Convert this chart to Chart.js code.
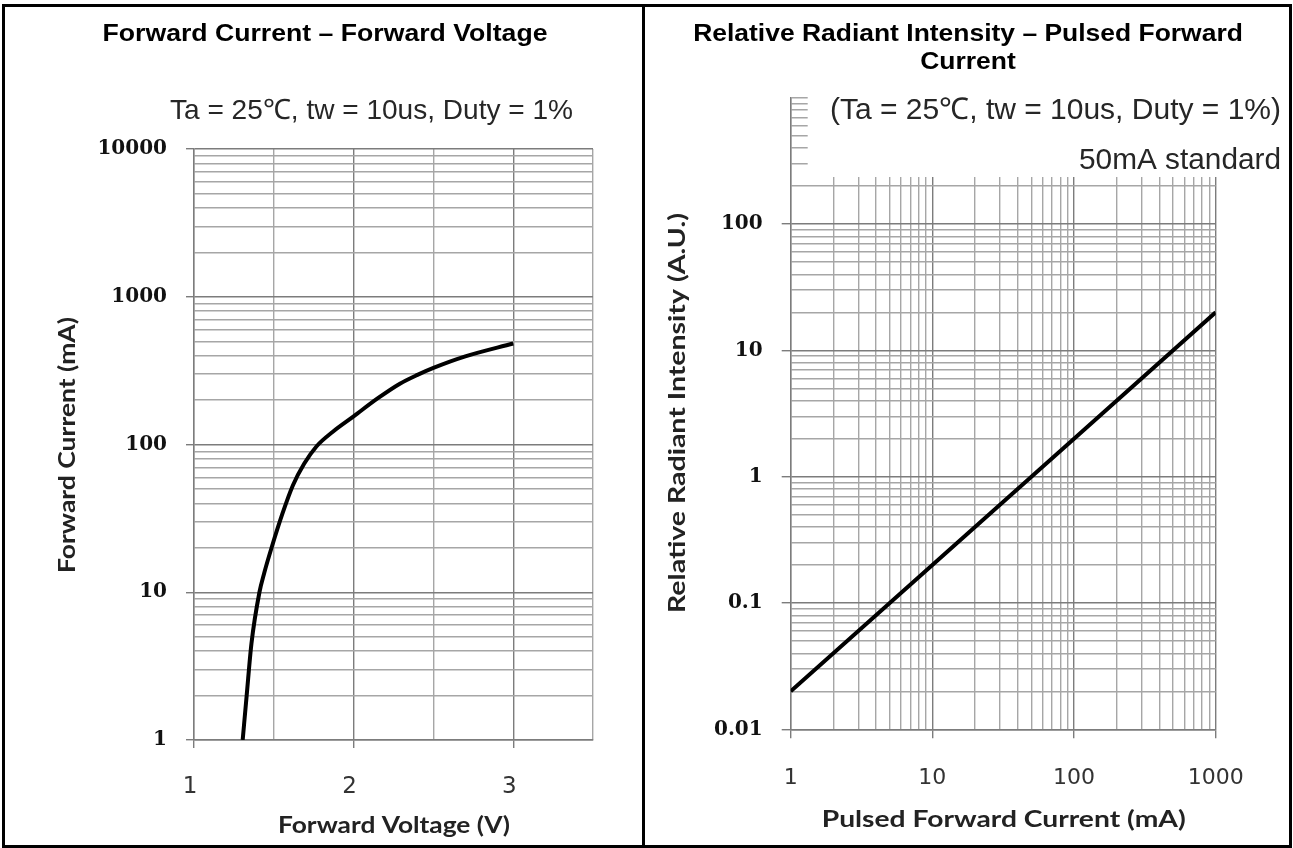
<!DOCTYPE html>
<html>
<head>
<meta charset="utf-8">
<script src="https://cdn.jsdelivr.net/npm/chart.js@4.4.1/dist/chart.umd.min.js"></script>
<style>
  html, body { margin: 0; padding: 0; background: #fff; }
  #page { position: relative; width: 1293px; height: 848px; overflow: hidden; }
  canvas { position: absolute; top: 0; }
  #leftChart { left: 0; }
  #rightChart { left: 645px; }
  .frame { position: absolute; left: 2px; top: 4px; width: 1290px; height: 844px; box-sizing: border-box; border: 3px solid #000; }
  .divider { position: absolute; left: 642px; top: 4px; width: 3px; height: 844px; background: #000; }
</style>
</head>
<body>
<div id="page">
  <canvas id="leftChart" width="645" height="848"></canvas>
  <canvas id="rightChart" width="648" height="848"></canvas>
  <div class="frame"></div>
  <div class="divider"></div>
</div>
<script>
// Forward current vs forward voltage
const fvVoltage = [1.305, 1.33, 1.36, 1.41, 1.44, 1.486, 1.554, 1.62, 1.69, 1.767, 1.87, 2.0, 2.15, 2.29, 2.4, 2.5, 2.7, 3.0];
const fvCurrent = [1, 2, 4.5, 10, 13.5, 20, 34, 53, 74, 97, 122, 155, 205, 258, 296, 330, 395, 483];
const fvVoltTicks = [1, 1.5, 2, 2.5, 3, 3.5];
const fvVoltLabels = [1, 2, 3];
const fvCurrentDecades = [1, 10, 100, 1000, 10000];

// Relative radiant intensity vs pulsed forward current (50mA = 1)
const riCurrent = [1, 10, 50, 100, 1000];
const riIntensity = [0.02, 0.2, 1, 2, 20];
const riCurrentDecades = [1, 10, 100, 1000];
const riIntensityDecades = [0.01, 0.1, 1, 10, 100, 1000];
const riIntensityLabels = [0.01, 0.1, 1, 10, 100];

const MAJOR = '#7c7c7c';
const MINOR = '#a6a6a6';

// 1..9 per decade, majors flagged for labels
function logTicks(decades, labelled) {
  const out = [];
  decades.forEach((d, i) => {
    out.push({ value: d, major: labelled.includes(d) });
    if (i < decades.length - 1) {
      for (let k = 2; k <= 9; k++) out.push({ value: +(d * k).toPrecision(6), major: false });
    }
  });
  return out;
}

const gridStyle = (tickLen) => ({
  color: c => (c.tick && c.tick.major ? MAJOR : MINOR),
  lineWidth: 1.4,
  tickLength: tickLen,
  tickColor: c => (c.tick && c.tick.major ? MAJOR : 'transparent')
});
const labelMajors = (v, i, t) => (t[i] && t[i].major ? String(v) : '');

// free text drawn on top (titles, axis names, test conditions)
function textPlugin(items) {
  return {
    id: 'panelText',
    afterDraw(chart) {
      const ctx = chart.ctx;
      items.forEach(t => {
        ctx.save();
        ctx.font = t.font;
        ctx.fillStyle = t.color || '#000';
        ctx.textAlign = 'left';
        ctx.textBaseline = 'alphabetic';
        const raw = ctx.measureText(t.text).width;
        const sx = t.width ? t.width / raw : (t.stretch || 1);
        const w = raw * sx;
        ctx.translate(t.x, t.y);
        if (t.rotate) ctx.rotate(t.rotate * Math.PI / 180);
        ctx.translate(t.align === 'right' ? -w : t.align === 'center' ? -w / 2 : 0, 0);
        ctx.scale(sx, 1);
        ctx.fillText(t.text, 0, 0);
        ctx.restore();
      });
    }
  };
}

// the upper part of the right grid is hidden behind the condition text
const coverTop = {
  id: 'coverTop',
  beforeDatasetsDraw(chart) {
    const { ctx, chartArea, scales } = chart;
    const yb = scales.y.getPixelForValue(200) - 9;
    ctx.save();
    ctx.fillStyle = '#fff';
    ctx.fillRect(chartArea.left + 17, 0, chart.width, yb);
    ctx.restore();
  }
};

new Chart(document.getElementById('leftChart'), {
  type: 'line',
  data: {
    datasets: [{
      data: fvVoltage.map((v, i) => ({ x: v, y: fvCurrent[i] })),
      borderColor: '#000',
      borderWidth: 4,
      pointRadius: 0,
      cubicInterpolationMode: 'monotone',
      fill: false
    }]
  },
  options: {
    responsive: false,
    animation: false,
    layout: { padding: { top: 149, right: 52, left: 0, bottom: 0 } },
    plugins: { legend: { display: false }, tooltip: { enabled: false } },
    scales: {
      x: {
        type: 'linear', min: 1, max: 3.5,
        afterBuildTicks: s => { s.ticks = fvVoltTicks.map(v => ({ value: v, major: fvVoltLabels.includes(v) })); },
        afterFit: s => { s.height = 108; },
        grid: gridStyle(8),
        border: { color: MAJOR, width: 1.4 },
        ticks: { autoSkip: false, maxRotation: 0, padding: 25, labelOffset: -4, color: '#333',
                 font: { family: 'DejaVu Sans', size: 23 }, callback: labelMajors }
      },
      y: {
        type: 'logarithmic', min: 1, max: 10000,
        afterBuildTicks: s => { s.ticks = logTicks(fvCurrentDecades, fvCurrentDecades); },
        afterFit: s => { s.width = 194; },
        grid: gridStyle(8),
        border: { color: MAJOR, width: 1.4 },
        ticks: { autoSkip: false, padding: 19, color: '#111',
                 font: { family: 'DejaVu Serif', weight: 'bold', size: 20 }, callback: labelMajors }
      }
    }
  },
  plugins: [textPlugin([
    { text: 'Forward Current \u2013 Forward Voltage', font: 'bold 23px "Liberation Sans"', x: 325, y: 41, align: 'center', width: 445 },
    { text: 'Ta = 25\u2103, tw = 10us, Duty = 1%', font: '28px "Liberation Sans"', color: '#262626', x: 573, y: 119, align: 'right', width: 403 },
    { text: 'Forward Voltage (V)', font: 'bold 22px Lato', color: '#222', x: 394, y: 833, align: 'center', width: 232 },
    { text: 'Forward Current (mA)', font: 'bold 22px Lato', color: '#222', x: 75, y: 445, align: 'center', width: 256, rotate: -90 }
  ])]
});

new Chart(document.getElementById('rightChart'), {
  type: 'line',
  data: {
    datasets: [{
      data: riCurrent.map((v, i) => ({ x: v, y: riIntensity[i] })),
      borderColor: '#000',
      borderWidth: 4,
      pointRadius: 0,
      tension: 0,
      fill: false
    }]
  },
  options: {
    responsive: false,
    animation: false,
    layout: { padding: { top: 97.7, right: 77.3, left: 0, bottom: 0 } },
    plugins: { legend: { display: false }, tooltip: { enabled: false } },
    scales: {
      x: {
        type: 'logarithmic', min: 1, max: 1000,
        afterBuildTicks: s => { s.ticks = logTicks(riCurrentDecades, riCurrentDecades); },
        afterFit: s => { s.height = 118.7; },
        grid: gridStyle(9),
        border: { color: MAJOR, width: 1.4 },
        ticks: { autoSkip: false, maxRotation: 0, padding: 27, color: '#333',
                 font: { family: 'DejaVu Sans', size: 22 }, callback: labelMajors }
      },
      y: {
        type: 'logarithmic', min: 0.01, max: 1000,
        afterBuildTicks: s => { s.ticks = logTicks(riIntensityDecades, riIntensityLabels); },
        afterFit: s => { s.width = 145.7; },
        grid: gridStyle(9),
        border: { color: MAJOR, width: 1.4 },
        ticks: { autoSkip: false, padding: 19, color: '#111',
                 font: { family: 'DejaVu Serif', weight: 'bold', size: 20 }, callback: labelMajors }
      }
    }
  },
  plugins: [coverTop, textPlugin([
    { text: 'Relative Radiant Intensity \u2013 Pulsed Forward', font: 'bold 23px "Liberation Sans"', x: 323, y: 41, align: 'center', stretch: 1.15 },
    { text: 'Current', font: 'bold 23px "Liberation Sans"', x: 323, y: 69, align: 'center', stretch: 1.15 },
    { text: '(Ta = 25\u2103, tw = 10us, Duty = 1%)', font: '30px "Liberation Sans"', color: '#262626', x: 636, y: 119, align: 'right', width: 451 },
    { text: '50mA standard', font: '30px "Liberation Sans"', color: '#262626', x: 636, y: 169, align: 'right', width: 202 },
    { text: 'Pulsed Forward Current (mA)', font: 'bold 23px Lato', color: '#222', x: 358.7, y: 827, align: 'center', width: 364 },
    { text: 'Relative Radiant Intensity (A.U.)', font: 'bold 23px Lato', color: '#222', x: 40, y: 413, align: 'center', width: 400, rotate: -90 }
  ])]
});
</script>
</body>
</html>
